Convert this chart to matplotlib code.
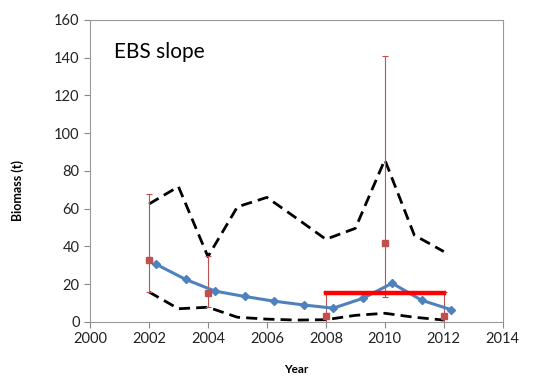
import matplotlib
matplotlib.use("Agg")
import matplotlib.pyplot as plt

plt.rcParams['font.family'] = ['Lato', 'DejaVu Sans']

# survey estimates with error bars
survey_years = [2002, 2004, 2008, 2010, 2012]
survey_biomass = [33, 15.5, 3, 42, 3]
survey_low = [16, 8, 0, 13, 0]
survey_high = [68, 35, 16, 141, 16]

# model fit (offset by a quarter year)
model_years = [2002.25, 2003.25, 2004.25, 2005.25, 2006.25, 2007.25,
               2008.25, 2009.25, 2010.25, 2011.25, 2012.25]
model_biomass = [30.5, 22.5, 16.3, 13.5, 11, 9, 7.3, 12.5, 20.5, 11.5, 6.5]

# confidence bounds
ci_years = [2002, 2003, 2004, 2005, 2006, 2007, 2008, 2009, 2010, 2011, 2012]
ci_upper = [62.5, 71.7, 34.6, 61, 66, 55, 43.8, 49.6, 85.9, 46, 37.3]
ci_lower = [15.9, 7, 7.8, 2.5, 1.5, 1, 1.2, 3.5, 4.6, 2.5, 1]

# average line
avg_years = [2008, 2012]
avg_value = [15.5, 15.5]

fig = plt.figure(figsize=(5.4, 3.77), dpi=100)
ax = fig.add_axes([0.1667, 0.146, 0.7643, 0.801])

ax.plot(ci_years, ci_upper, color='black', lw=2, ls=(0, (4, 2.2)))
ax.plot(ci_years, ci_lower, color='black', lw=2, ls=(0, (4, 2.2)))

yerr = [[b - l for b, l in zip(survey_biomass, survey_low)],
        [h - b for b, h in zip(survey_biomass, survey_high)]]
ax.errorbar(survey_years, survey_biomass, yerr=yerr, fmt='s', color='#C0504D',
            ms=5, ecolor='#C0504D', elinewidth=0.8, capsize=2.5, capthick=0.8)

ax.plot(model_years, model_biomass, color='#4F81BD', lw=2.2, marker='D', ms=4.5)
ax.plot(avg_years, avg_value, color='#FF0000', lw=3.2)

ax.set_xlim(2000, 2014)
ax.set_ylim(0, 160)
ax.set_xticks(range(2000, 2015, 2))
ax.set_yticks(range(0, 161, 20))
ax.tick_params(labelsize=10.5, length=4, color='#888888', labelcolor='#222222')
for s in ax.spines.values():
    s.set_color('#999999')
ax.set_xlabel('Year', fontsize=8.5, fontweight='bold')
ax.set_ylabel('Biomass (t)', fontsize=9, fontweight='bold')
ax.xaxis.set_label_coords(0.5, -0.14)
ax.yaxis.set_label_coords(-0.16, 0.434)
ax.text(2000.8, 143, 'EBS slope', fontsize=15, va='center')

fig.savefig('out.png', dpi=100)
